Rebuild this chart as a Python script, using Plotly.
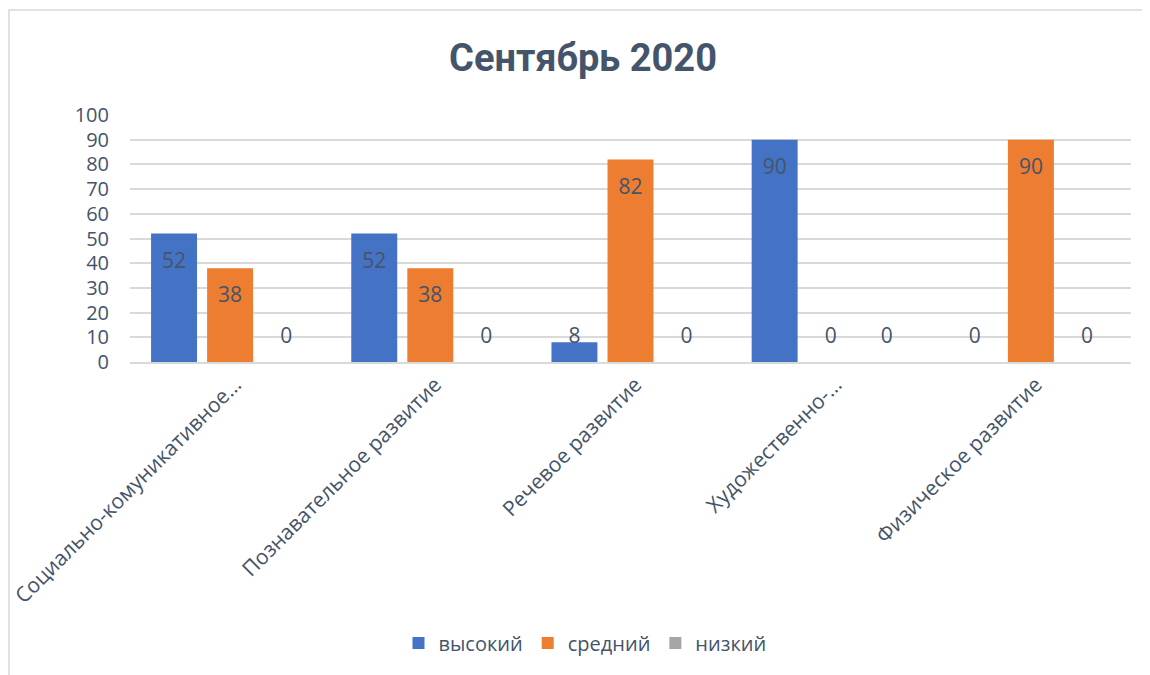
import plotly.graph_objects as go

categories = ["Социально-комуникативное…", "Познавательное развитие", "Речевое развитие",
              "Художественно-…", "Физическое развитие"]
series_names = ["высокий", "средний", "низкий"]
vysokiy = [52, 52, 8, 90, 0]
sredniy = [38, 38, 82, 0, 90]
nizkiy = [0, 0, 0, 0, 0]
y_ticks = [0, 10, 20, 30, 40, 50, 60, 70, 80, 90, 100]

series_values = [vysokiy, sredniy, nizkiy]
colors = ["#4472C4", "#ED7D31", "#A5A5A5"]
TXT = "#44546A"
FONT = "Open Sans"

# page body has an 8px margin, so figure coords = screenshot coords - 8
L, R, T, B = 122, 1123, 107, 354
PW, PH = R - L, B - T

bargap = 0.16
nser = len(series_values)
slot = (1 - bargap) / nser
xs = list(range(len(categories)))

fig = go.Figure()
for name, vals, col in zip(series_names, series_values, colors):
    fig.add_trace(go.Bar(x=xs, y=vals, name=name, marker=dict(color=col, line=dict(width=0)),
                         hoverinfo="y+name"))

# data labels (inside end, like the source chart)
for s, vals in enumerate(series_values):
    off = (s - (nser - 1) / 2) * slot
    fig.add_trace(go.Scatter(
        x=[i + off for i in xs],
        y=[max(v, 21.4) - 11.7 for v in vals],
        text=[str(v) for v in vals],
        mode="text",
        textfont=dict(family=FONT, size=21, color=TXT),
        showlegend=False, hoverinfo="skip"))

fig.update_layout(
    width=1150, height=675,
    paper_bgcolor="white", plot_bgcolor="white",
    barmode="group", bargap=bargap, bargroupgap=0.18,
    margin=dict(l=L, r=1150 - R, t=T, b=675 - B, autoexpand=False),
    title=dict(text="<b>Сентябрь 2020</b>", x=575 / 1150, xanchor="center", xref="container",
               y=1 - 50 / 675, yanchor="middle", yref="container",
               font=dict(family="Roboto", size=38, color=TXT)),
    font=dict(family=FONT, size=19, color=TXT),
    legend=dict(orientation="h", x=(577 - L) / PW, xanchor="center",
                y=(B - 635) / PH, yanchor="middle",
                font=dict(family=FONT, size=20, color=TXT),
                itemwidth=30, traceorder="normal"),
    showlegend=True,
)
fig.update_xaxes(range=[-0.5, len(categories) - 0.5], tickvals=xs, ticktext=categories,
                 tickangle=-45, showgrid=False, zeroline=False, showline=True,
                 linecolor="#D9D9D9", linewidth=2, ticks="",
                 ticklabeloverflow="allow", ticklabelshift=5,
                 tickfont=dict(family=FONT, size=21, color=TXT))
fig.update_yaxes(range=[0, 100], tickvals=y_ticks, showgrid=True, gridcolor="#D9D9D9",
                 gridwidth=2, zeroline=False, showline=False, ticks="",
                 ticklabelstandoff=20,
                 tickfont=dict(family=FONT, size=20, color=TXT))

# chart area border
fig.add_shape(type="rect", xref="paper", yref="paper",
              x0=(1 - L) / PW, x1=(1160 - L) / PW,
              y0=(B - 1000) / PH, y1=(B - 2) / PH,
              line=dict(color="#D9D9D9", width=1.5), fillcolor="rgba(0,0,0,0)", layer="below")

fig.write_html("out.html")
